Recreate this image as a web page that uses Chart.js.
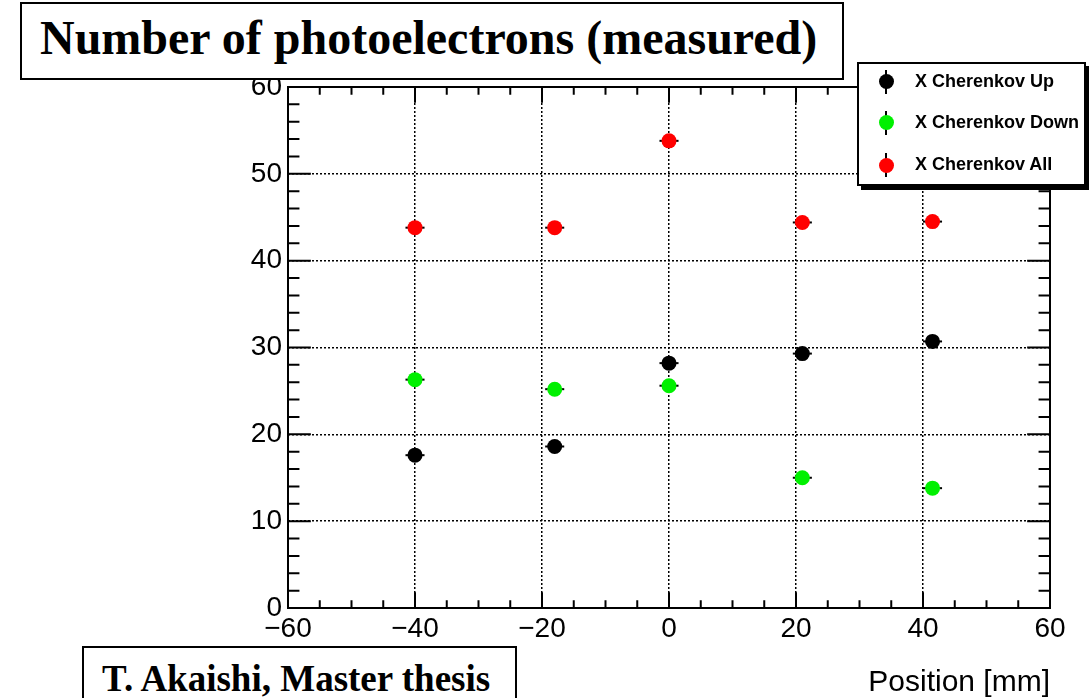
<!DOCTYPE html>
<html>
<head>
<meta charset="utf-8">
<script src="https://cdn.jsdelivr.net/npm/chart.js@4/dist/chart.umd.min.js"></script>
<style>
  html, body { margin: 0; padding: 0; background: #fff; overflow: hidden; }
  #wrap { position: relative; width: 1089px; height: 698px; overflow: hidden; }
  #plot { position: absolute; left: 0; top: 0; }
  .box { position: absolute; box-sizing: border-box; background: #fff; border: 2px solid #000; white-space: nowrap; }
  #title { left: 20px; top: 2px; width: 824px; height: 78px; padding: 6px 0 0 18px; line-height: 68px;
           font: bold 48px "Liberation Serif", "Times New Roman", serif; }
  #author { left: 82px; top: 646px; width: 435px; height: 70px; padding: 9px 0 0 18px; line-height: 40px;
            font: bold 37px "Liberation Serif", "Times New Roman", serif; }
  #legend { left: 857px; top: 62px; width: 229px; height: 124px; box-shadow: 4px 4px 0 #000; }
  .entry { position: absolute; left: 0; height: 0; }
  .entry .bar { position: absolute; left: 26px; top: -12px; width: 2px; height: 24px; background: #000; }
  .entry .dot { position: absolute; left: 19.5px; top: -7.5px; width: 15px; height: 15px; border-radius: 50%; }
  .entry .txt { position: absolute; left: 56px; top: -11px; line-height: 22px;
                font: bold 18px "Liberation Sans", Arial, sans-serif; }
</style>
</head>
<body>
<div id="wrap">
  <canvas id="plot" width="1089" height="698"></canvas>
  <div class="box" id="title">Number of photoelectrons (measured)</div>
  <div class="box" id="legend"></div>
  <div class="box" id="author">T. Akaishi, Master thesis</div>
</div>
<script>
// beam position scan, photoelectron yield per Cherenkov counter
const positions = [-40, -18, 0, 21, 41.5];
const posErr = [1.5, 1.5, 1.5, 1.5, 1.5];
const cherenkovUp = [17.6, 18.6, 28.2, 29.3, 30.7];
const cherenkovDown = [26.3, 25.2, 25.6, 15.0, 13.8];
const cherenkovAll = [43.8, 43.8, 53.8, 44.4, 44.5];

const seriesNames = ['X Cherenkov Up', 'X Cherenkov Down', 'X Cherenkov All'];
const seriesColors = ['#000000', '#00f000', '#ff0000'];

const xTicks = [-60, -40, -20, 0, 20, 40, 60];
const yTicks = [0, 10, 20, 30, 40, 50, 60];

function points(values) {
  return positions.map((x, i) => ({ x: x, y: values[i], xErr: posErr[i] }));
}

const datasets = [cherenkovUp, cherenkovDown, cherenkovAll].map((vals, i) => ({
  label: seriesNames[i],
  data: points(vals),
  backgroundColor: seriesColors[i],
  borderColor: seriesColors[i],
  borderWidth: 0,
  pointRadius: 7.5,
  pointHoverRadius: 7.5
}));

// horizontal error bars, drawn under the markers
const errorBars = {
  id: 'errorBars',
  beforeDatasetsDraw(chart) {
    const { ctx, scales: { x, y } } = chart;
    ctx.save();
    ctx.strokeStyle = '#000';
    ctx.lineWidth = 2;
    chart.data.datasets.forEach(ds => {
      ds.data.forEach(p => {
        const py = y.getPixelForValue(p.y);
        ctx.beginPath();
        ctx.moveTo(x.getPixelForValue(p.x - p.xErr), py);
        ctx.lineTo(x.getPixelForValue(p.x + p.xErr), py);
        ctx.stroke();
      });
    });
    ctx.restore();
  }
};

// frame with inward ticks on all four sides
const frameTicks = {
  id: 'frameTicks',
  afterDraw(chart) {
    const { ctx, chartArea: a, scales: { x, y } } = chart;
    const xMajor = 0.03 * (a.bottom - a.top);
    const yMajor = 0.03 * (a.right - a.left);
    ctx.save();
    ctx.strokeStyle = '#000';
    ctx.lineWidth = 2;
    ctx.beginPath();
    for (let v = x.min + 5; v < x.max; v += 5) {
      const px = x.getPixelForValue(v);
      const len = (v % 20 === 0) ? xMajor : xMajor / 2;
      ctx.moveTo(px, a.bottom); ctx.lineTo(px, a.bottom - len);
      ctx.moveTo(px, a.top); ctx.lineTo(px, a.top + len);
    }
    for (let v = y.min + 2; v < y.max; v += 2) {
      const py = y.getPixelForValue(v);
      const len = (v % 10 === 0) ? yMajor : yMajor / 2;
      ctx.moveTo(a.left, py); ctx.lineTo(a.left + len, py);
      ctx.moveTo(a.right, py); ctx.lineTo(a.right - len, py);
    }
    ctx.stroke();
    ctx.strokeRect(a.left, a.top, a.right - a.left, a.bottom - a.top);
    ctx.restore();
  }
};

const tickFont = { family: '"Liberation Sans", Arial, sans-serif', size: 28 };
const gridColor = c => (c.tick && (c.tick.value === c.scale.min || c.tick.value === c.scale.max)) ? 'rgba(0,0,0,0)' : '#000';

const chart = new Chart(document.getElementById('plot'), {
  type: 'scatter',
  data: { datasets: datasets },
  options: {
    responsive: false,
    animation: false,
    events: [],
    layout: { padding: { top: 87, right: 39, left: 0, bottom: 0 } },
    plugins: { legend: { display: false }, tooltip: { enabled: false } },
    scales: {
      x: {
        type: 'linear',
        min: xTicks[0],
        max: xTicks[xTicks.length - 1],
        afterBuildTicks: s => { s.ticks = xTicks.map(v => ({ value: v })); },
        afterFit: s => { s.height = 90; },
        ticks: {
          font: tickFont, color: '#000', padding: 4, maxRotation: 0, autoSkip: false,
          callback: v => v < 0 ? '\u2212' + Math.abs(v) : String(v)
        },
        grid: { drawTicks: false, color: gridColor, lineWidth: 1.5 },
        border: { display: false, dash: [2, 2] },
        title: {
          display: true, text: 'Position [mm]', align: 'end', color: '#000',
          font: { family: '"Liberation Sans", Arial, sans-serif', size: 30 },
          padding: { top: 0, bottom: -3 }
        }
      },
      y: {
        type: 'linear',
        min: yTicks[0],
        max: yTicks[yTicks.length - 1],
        afterBuildTicks: s => { s.ticks = yTicks.map(v => ({ value: v })); },
        afterFit: s => { s.width = 288; },
        ticks: { font: tickFont, color: '#000', padding: 6 },
        grid: { drawTicks: false, color: gridColor, lineWidth: 1.5 },
        border: { display: false, dash: [2, 2] }
      }
    }
  },
  plugins: [errorBars, frameTicks]
});

// legend box built from the datasets
const legend = document.getElementById('legend');
const rowY = [17.5, 58.5, 101];
chart.data.datasets.forEach((ds, i) => {
  const row = document.createElement('div');
  row.className = 'entry';
  row.style.top = rowY[i] + 'px';
  row.innerHTML = '<div class="bar"></div><div class="dot" style="background:' + ds.backgroundColor +
    '"></div><div class="txt">' + ds.label + '</div>';
  legend.appendChild(row);
});
</script>
</body>
</html>
